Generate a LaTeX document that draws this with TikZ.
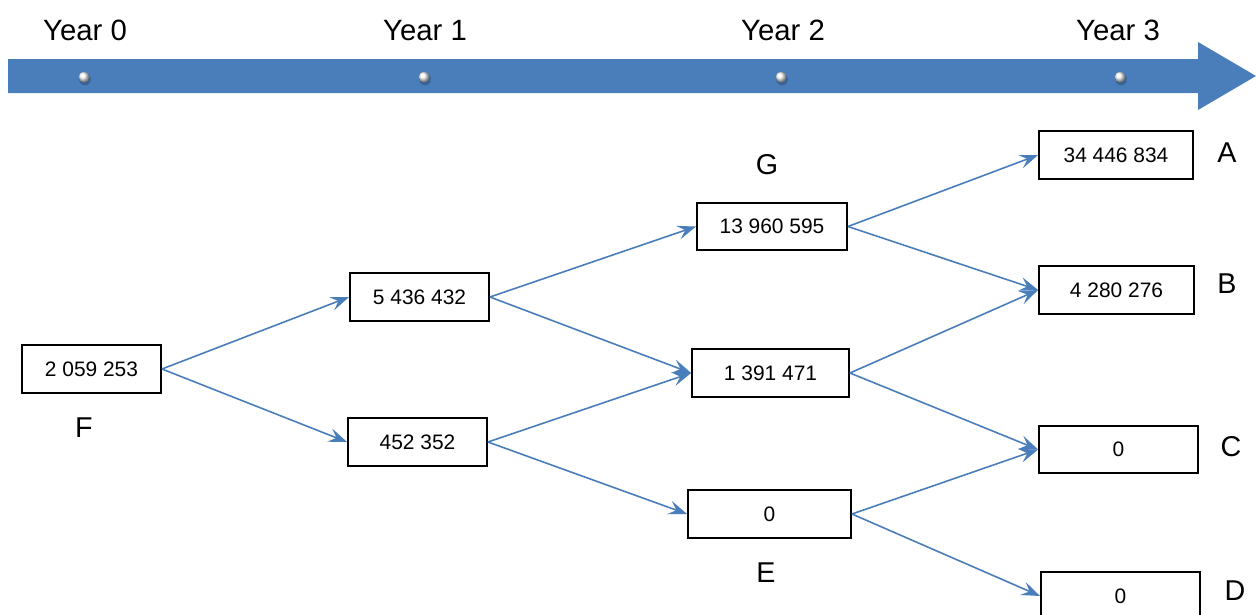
\documentclass[tikz,border=0pt]{standalone}
\usepackage{fontspec}
\setmainfont{Liberation Sans}
\usetikzlibrary{arrows.meta}
\definecolor{band}{HTML}{4A7EBB}
\tikzset{
  valbox/.style={draw=black, line width=1.4pt, fill=white, inner sep=0pt,
    minimum height=36pt, font=\fontsize{15.7}{18}\selectfont},
  yearlabel/.style={anchor=base, inner sep=0pt, font=\fontsize{22}{26}\selectfont},
  caselabel/.style={anchor=base, inner sep=0pt, font=\fontsize{21.5}{26}\selectfont},
  link/.style={draw=band, line width=1.2pt,
    -{Stealth[length=14pt, width=10.5pt, inset=5.5pt]}},
}
\begin{document}
\begin{tikzpicture}[x=0.75pt, y=-0.75pt]
\useasboundingbox (0,0) rectangle (1256,614);
\begin{scope}
\clip (0,0) rectangle (1256,614);

% time axis
\fill[band] (8,59) -- (1198,59) -- (1198,42) -- (1256,76) -- (1198,110)
  -- (1198,93) -- (8,93) -- cycle;
\foreach \px in {84, 424, 781, 1120} {
  \fill[band!55!black, opacity=0.45] (\px+1,79.5) circle[radius=4.4pt];
  \shade[ball color=white] (\px,77) circle[radius=4pt];
}
\node[yearlabel] (y0) at (85,40) {Year 0};
\node[yearlabel] (y1) at (425,40) {Year 1};
\node[yearlabel] (y2) at (783,40) {Year 2};
\node[yearlabel] (y3) at (1118,40) {Year 3};

% value boxes
\node[valbox, minimum width=104.25pt] (F) at (91.5,369) {2 059 253};
\node[valbox, minimum width=104.25pt] (U) at (419.5,297) {5 436 432};
\node[valbox, minimum width=104.25pt] (L) at (417.5,442) {452 352};
\node[valbox, minimum width=112.5pt, minimum height=35.25pt] (G) at (772,226.5) {13 960 595};
\node[valbox, minimum width=117.75pt] (M) at (770.5,373) {1 391 471};
\node[valbox, minimum width=122.25pt] (E) at (769.5,514) {0};
\node[valbox, minimum width=115.5pt] (A) at (1116,155) {34 446 834};
\node[valbox, minimum width=116.25pt] (B) at (1116.5,290) {4 280 276};
\node[valbox, minimum width=119.25pt, minimum height=35.25pt] (C) at (1118.5,449.5) {0};
\node[valbox, minimum width=119.25pt] (D) at (1120.5,596) {0};

% state labels
\node[caselabel] (lA) at (1227,162) {A};
\node[caselabel] (lB) at (1227,293) {B};
\node[caselabel] (lC) at (1231,456) {C};
\node[caselabel] (lD) at (1235,600) {D};
\node[caselabel] (lE) at (766,582) {E};
\node[caselabel] (lF) at (84,437) {F};
\node[caselabel] (lG) at (767,174) {G};

% transitions
\draw[link] (F.east) -- (U.west);
\draw[link] (F.east) -- (L.west);
\draw[link] (U.east) -- (G.west);
\draw[link] (U.east) -- (M.west);
\draw[link] (L.east) -- (M.west);
\draw[link] (L.east) -- (E.west);
\draw[link] (G.east) -- (A.west);
\draw[link] (G.east) -- (B.west);
\draw[link] (M.east) -- (B.west);
\draw[link] (M.east) -- (C.west);
\draw[link] (E.east) -- (C.west);
\draw[link] (E.east) -- (D.west);
\end{scope}
\end{tikzpicture}
\end{document}
